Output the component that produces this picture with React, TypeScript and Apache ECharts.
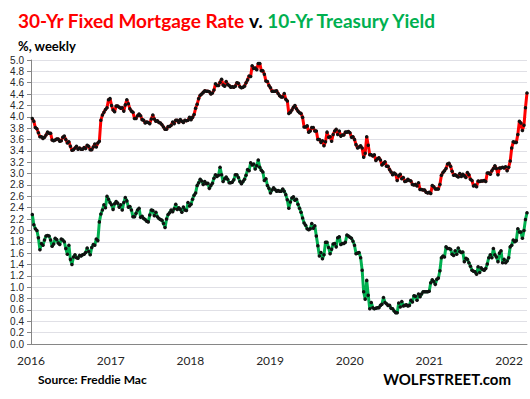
import React, { useEffect, useRef } from "react";
import * as echarts from "echarts";

// Weekly observations, first week: 2016-01-07, one value per week
const FIRST_WEEK = "2016-01-07";

const mortgage2016 = [3.97,3.92,3.81,3.79, 3.72,3.65,3.65,3.62, 3.64,3.68,3.73,3.71,3.71, 3.59,3.58,3.59,3.61, 3.61,3.57,3.58,3.64, 3.66,3.60,3.54,3.56,3.48, 3.41,3.42,3.45,3.48, 3.43,3.45,3.43,3.43, 3.46,3.44,3.50,3.48,3.42, 3.42,3.47,3.52,3.47, 3.54,3.57,3.94,4.03, 4.08,4.13,4.16,4.30,4.32];
const mortgage2017 = [4.20,4.12,4.09,4.19, 4.19,4.17,4.15,4.16, 4.10,4.21,4.30,4.23,4.14, 4.10,4.08,3.97,3.97, 4.02,4.05,4.02,3.95, 3.94,3.89,3.91,3.90,3.88, 3.96,4.03,3.96,3.92, 3.93,3.90,3.89,3.86,3.82, 3.78,3.78,3.83,3.83, 3.85,3.91,3.88,3.94, 3.94,3.90,3.95,3.92,3.90, 3.94,3.93,3.94,3.99];
const mortgage2018 = [3.95,3.99,4.04,4.15, 4.22,4.32,4.38,4.40, 4.43,4.46,4.45,4.45,4.44, 4.40,4.42,4.47,4.58, 4.55,4.55,4.61,4.66,4.56, 4.54,4.62,4.57,4.55, 4.52,4.53,4.52,4.54, 4.60,4.59,4.53,4.51,4.52, 4.54,4.60,4.65,4.72, 4.71,4.90,4.85,4.86, 4.83,4.94,4.94,4.81,4.81, 4.75,4.63,4.62,4.55];
const mortgage2019 = [4.51,4.45,4.45,4.45,4.46, 4.41,4.37,4.35,4.35, 4.41,4.31,4.28,4.06, 4.08,4.12,4.17,4.20, 4.14,4.10,4.07,4.06,3.99, 3.82,3.82,3.84,3.73, 3.75,3.81,3.81,3.75, 3.75,3.60,3.60,3.55,3.58, 3.49,3.56,3.73,3.64, 3.65,3.57,3.69,3.75,3.78, 3.69,3.75,3.66,3.68, 3.68,3.73,3.73,3.74];
const mortgage2020 = [3.72,3.64,3.65,3.60,3.51, 3.45,3.47,3.49,3.45, 3.29,3.36,3.65,3.50, 3.33,3.33,3.31,3.33,3.23, 3.26,3.28,3.24,3.15, 3.18,3.21,3.13,3.13, 3.07,3.03,2.98,3.01,2.99, 2.88,2.96,2.99,2.91, 2.93,2.86,2.87,2.90, 2.88,2.87,2.81,2.80,2.81, 2.78,2.84,2.72,2.72, 2.71,2.71,2.67,2.66,2.67];
const mortgage2021 = [2.65,2.79,2.77,2.73, 2.73,2.73,2.81,2.97, 3.02,3.05,3.09,3.17, 3.18,3.13,3.04,2.97,2.98, 2.96,2.94,3.00,2.95, 2.99,2.96,2.93,3.02, 2.98,2.90,2.88,2.78,2.80, 2.77,2.87,2.86,2.87, 2.87,2.88,2.86,3.01,3.01, 2.99,3.05,3.09,3.14, 3.09,2.98,3.10,3.10, 3.11,3.10,3.12,3.05,3.11];
const mortgage2022 = [3.22,3.45,3.56,3.55, 3.55,3.69,3.92,3.89, 3.76,3.85,4.16,4.42];

const treasury2016 = [2.28,2.10,2.03,2.00, 1.87,1.66,1.77,1.74, 1.83,1.90,1.91,1.90,1.83, 1.72,1.76,1.86,1.84, 1.78,1.75,1.85,1.83, 1.80,1.68,1.58,1.74,1.49, 1.40,1.53,1.57,1.52, 1.51,1.56,1.55,1.57, 1.58,1.61,1.69,1.63,1.57, 1.70,1.75,1.74,1.85, 1.82,2.15,2.29,2.36, 2.45,2.40,2.60,2.55,2.49];
const treasury2017 = [2.45,2.37,2.47,2.51, 2.48,2.41,2.45,2.36, 2.49,2.58,2.52,2.41,2.42, 2.36,2.24,2.24,2.30, 2.36,2.39,2.23,2.25, 2.21,2.19,2.16,2.15,2.27, 2.36,2.35,2.26,2.32, 2.24,2.21,2.19,2.18,2.12, 2.05,2.20,2.28,2.31, 2.36,2.33,2.38,2.46, 2.37,2.40,2.37,2.32,2.41, 2.36,2.35,2.49,2.43];
const treasury2018 = [2.46,2.55,2.62,2.66, 2.79,2.84,2.90,2.87, 2.81,2.86,2.82,2.83,2.74, 2.79,2.83,2.92,2.98, 2.95,2.97,3.11,2.98,2.86, 2.91,2.94,2.90,2.84, 2.84,2.85,2.89,2.98, 2.98,2.93,2.86,2.82,2.86, 2.90,2.97,3.07,3.05, 3.19,3.15,3.17,3.08, 3.14,3.24,3.11,3.06,3.03, 2.88,2.91,2.79,2.74];
const treasury2019 = [2.66,2.71,2.75,2.72,2.69, 2.70,2.69,2.69,2.73, 2.69,2.63,2.54,2.39, 2.50,2.57,2.59,2.53, 2.55,2.46,2.39,2.32,2.22, 2.13,2.09,2.03,2.01, 2.03,2.12,2.04,2.08, 1.90,1.73,1.55,1.61,1.50, 1.57,1.79,1.79,1.70, 1.59,1.67,1.76,1.77,1.71, 1.87,1.89,1.75,1.77, 1.77,1.79,1.92,1.90];
const treasury2020 = [1.88,1.86,1.81,1.74,1.59, 1.60,1.61,1.52,1.30, 0.92,0.79,1.12,0.86, 0.62,0.73,0.64,0.62,0.63, 0.64,0.64,0.68,0.70, 0.82,0.73,0.71,0.68, 0.68,0.63,0.62,0.58,0.55, 0.55,0.72,0.65,0.75, 0.67,0.68,0.69,0.67, 0.68,0.77,0.74,0.85,0.84, 0.77,0.88,0.83,0.88, 0.92,0.92,0.92,0.92,0.93];
const treasury2021 = [1.08,1.13,1.10,1.05, 1.14,1.16,1.29,1.52, 1.55,1.53,1.71,1.68, 1.68,1.67,1.58,1.56,1.64, 1.58,1.69,1.63,1.61, 1.62,1.45,1.51,1.49, 1.43,1.37,1.30,1.28,1.27, 1.23,1.36,1.26,1.34, 1.31,1.30,1.33,1.41,1.52, 1.57,1.52,1.68,1.57, 1.53,1.45,1.60,1.64, 1.43,1.49,1.43,1.46,1.52];
const treasury2022 = [1.71,1.74,1.83,1.80, 1.82,2.03,1.97,1.97, 1.86,2.00,2.19,2.31];

const mortgage = [...mortgage2016, ...mortgage2017, ...mortgage2018, ...mortgage2019, ...mortgage2020, ...mortgage2021, ...mortgage2022];
const treasury = [...treasury2016, ...treasury2017, ...treasury2018, ...treasury2019, ...treasury2020, ...treasury2021, ...treasury2022];

const yearTicks = [2016, 2017, 2018, 2019, 2020, 2021, 2022];

const RED = "#ff0000";
const GREEN = "#00b050";
const FONT = "Lato, 'Liberation Sans', sans-serif";
const AXIS_FONT = "'Liberation Sans', Arial, sans-serif";

function decimalYear(t: number): number {
  const d = new Date(t);
  const y = d.getUTCFullYear();
  const s = Date.UTC(y, 0, 1);
  const e = Date.UTC(y + 1, 0, 1);
  return y + (t - s) / (e - s);
}

function weekX(i: number): number {
  const start = Date.parse(FIRST_WEEK + "T00:00:00Z");
  return decimalYear(start + i * 7 * 86400000);
}

export default function App() {
  const ref = useRef<HTMLDivElement>(null);
  useEffect(() => {
    if (!ref.current) return;
    const chart = echarts.init(ref.current, undefined, { renderer: "svg" });
    const mData = mortgage.map((v, i) => [weekX(i), v]);
    const tData = treasury.map((v, i) => [weekX(i), v]);
    const lastX = weekX(Math.max(mortgage.length, treasury.length) - 1);
    chart.setOption({
      animation: false,
      backgroundColor: "#ffffff",
      textStyle: { fontFamily: FONT },
      title: [
        {
          text: "{r|30-Yr Fixed Mortgage Rate} {k|v.} {g|10-Yr Treasury Yield}",
          left: 13,
          top: 6,
          textStyle: {
            fontFamily: FONT,
            rich: {
              r: { color: RED, fontWeight: "bold", fontSize: 19, fontFamily: FONT },
              k: { color: "#000", fontWeight: "bold", fontSize: 19, fontFamily: FONT },
              g: { color: GREEN, fontWeight: "bold", fontSize: 19, fontFamily: FONT },
            },
          },
        },
        {
          text: "%, weekly",
          left: 13,
          top: 34,
          textStyle: { fontFamily: FONT, fontWeight: "bold", fontSize: 13, color: "#000" },
        },
        {
          text: "Source: Freddie Mac",
          left: 33,
          top: 368,
          textStyle: { fontFamily: FONT, fontWeight: "bold", fontSize: 12, color: "#000" },
        },
        {
          text: "WOLFSTREET.com",
          right: 14,
          top: 366,
          textStyle: { fontFamily: FONT, fontWeight: "bold", fontSize: 15, color: "#000" },
        },
      ],
      grid: { left: 31, right: 3, top: 60, bottom: 55, containLabel: false },
      xAxis: {
        type: "value",
        min: yearTicks[0],
        max: lastX,
        interval: 1,
        axisLine: { show: true, lineStyle: { color: "#868686", width: 1 } },
        axisTick: { show: false },
        splitLine: { show: false },
        axisLabel: {
          showMinLabel: true,
          showMaxLabel: false,
          color: "#262626",
          fontSize: 12,
          fontFamily: FONT,
          margin: 10,
          formatter: (v: number) => (yearTicks.includes(Math.round(v)) && Math.abs(v - Math.round(v)) < 1e-6 ? String(Math.round(v)) : ""),
        },
      },
      yAxis: {
        type: "value",
        min: 0,
        max: 5,
        interval: 0.2,
        axisLine: { show: true, lineStyle: { color: "#868686", width: 1 } },
        axisTick: { show: true, length: 4, inside: false, lineStyle: { color: "#868686" } },
        splitLine: { show: true, lineStyle: { color: "#e0e0e6", width: 1 } },
        axisLabel: {
          showMinLabel: true,
          showMaxLabel: true,
          hideOverlap: false,
          color: "#262626",
          fontSize: 10,
          lineHeight: 10,
          fontFamily: AXIS_FONT,
          margin: 7,
          formatter: (v: number) => v.toFixed(1),
        },
      },
      series: [
        {
          name: "30-Yr Fixed Mortgage Rate",
          type: "line",
          data: mData,
          showAllSymbol: true,
          symbol: "circle",
          symbolSize: 3.5,
          lineStyle: { color: RED, width: 3 },
          itemStyle: { color: "#111" },
          emphasis: { disabled: true },
        },
        {
          name: "10-Yr Treasury Yield",
          type: "line",
          data: tData,
          showAllSymbol: true,
          symbol: "circle",
          symbolSize: 3.5,
          lineStyle: { color: GREEN, width: 3 },
          itemStyle: { color: "#111" },
          emphasis: { disabled: true },
        },
      ],
    });
    return () => chart.dispose();
  }, []);
  return <div ref={ref} style={{ position: "fixed", left: 0, top: 0, width: 530, height: 399 }} />;
}
